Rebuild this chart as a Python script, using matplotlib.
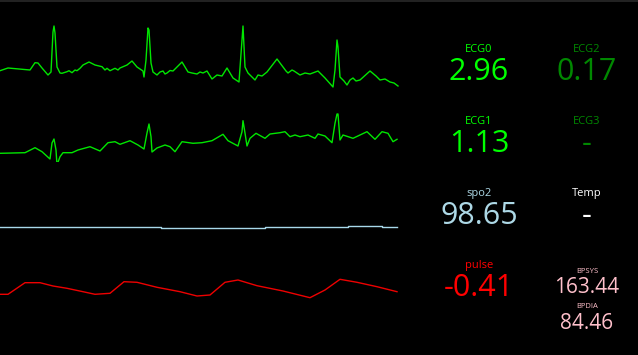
import matplotlib
matplotlib.use("Agg")
import matplotlib.pyplot as plt
from matplotlib.lines import Line2D

plt.rcParams['font.family'] = ['Open Sans', 'DejaVu Sans']

# ---- waveform data (time in samples, amplitude in arbitrary units) ----
ecg0_t = [0, 8, 30, 35, 38, 42, 48, 51, 53, 54, 55, 57, 60, 62, 67, 69, 72, 75, 77, 80, 83,
          89, 95, 102, 105, 107, 110, 115, 118, 120, 127, 132, 137, 143, 144, 146, 148, 149,
          151, 153, 157, 160, 163, 165, 167, 170, 173, 182, 188, 192, 197, 200, 203, 207,
          212, 217, 222, 227, 230, 233, 239, 242, 243, 245, 248, 252, 255, 258, 262, 267,
          277, 283, 286, 288, 292, 294, 300, 305, 310, 318, 325, 333, 335, 337, 338, 340,
          344, 347, 350, 353, 356, 360, 370, 376, 380, 385, 390, 394, 398]
ecg0_v = [19.3, 22, 20, 27.3, 27, 22, 15, 18, 58, 64, 57, 23, 17, 16.7, 18.3, 19.3, 17.3, 20,
          19.3, 21.7, 25, 28, 25, 23.3, 20, 21.7, 19.3, 21.7, 20, 22, 25, 29, 23, 19, 13, 30,
          62, 60, 27, 18, 15, 18, 19, 16, 17, 19.5, 19, 28, 18, 17, 16, 18, 17, 19, 11, 15,
          14, 22, 17, 12, 8, 50, 64, 23, 17, 13, 10, 15, 14, 18, 31, 23, 19, 17, 20, 19, 15,
          17, 16, 19, 12, 3, 20, 50, 43, 13, 9, 5, 10, 12, 9, 10, 19, 14, 10, 11, 8, 7, 4]

ecg1_t = [0, 25, 35, 42, 50, 52, 54, 56, 57, 60, 63, 72, 78, 90, 100, 108, 115, 120, 130,
          138, 144, 147, 149, 151, 152, 157, 165, 170, 175, 182, 193, 202, 212, 223, 228,
          238, 242, 243, 245, 247, 250, 256, 265, 270, 280, 285, 290, 295, 300, 308, 315,
          318, 325, 332, 335, 337, 338, 340, 343, 353, 367, 375, 382, 388, 393, 397]
ecg1_v = [8.7, 9.3, 14.3, 10.3, 3, 19, 23, 12, -3, 5.3, 9.3, 9.3, 12, 15.3, 11, 19.3, 20.3,
          17.7, 21.3, 17, 13, 29, 38, 25.3, 10, 14, 17, 15.3, 10.3, 20.3, 18.7, 19.3, 21.3,
          27.7, 21.3, 16, 30.3, 41.3, 29, 16, 23.7, 28.7, 23.7, 28, 29.3, 30.3, 25.3, 27,
          25.3, 27, 23.7, 28, 26, 19.3, 38.7, 48, 48, 22, 27, 23.7, 30.3, 22.7, 30.3, 28.7,
          20.3, 22.7]

spo2_t = [0, 161, 265, 348, 382, 397]
spo2_v = [7, 5.7, 7, 8, 7, 7]

pulse_t = [0, 8, 25, 40, 53, 67, 83, 95, 110, 124, 137, 157, 180, 197, 210, 225, 238, 257,
           283, 310, 325, 340, 357, 377, 397]
pulse_v = [11.7, 11.7, 23.3, 23.3, 20, 17.7, 14.3, 11.7, 12.7, 24.3, 23.7, 18.7, 14.3, 10,
           11, 23.7, 26, 20.3, 15, 8.3, 16, 26.7, 23.7, 19.3, 14.3]

# ---- numeric readouts ----
left_labels = ["ECG0", "ECG1", "spo2", "pulse"]
left_values = ["2.96", "1.13", "98.65", "-0.41"]
right_labels = ["ECG2", "ECG3", "Temp"]
right_values = ["0.17", "-", "-"]
bp_labels = ["BPSYS", "BPDIA"]
bp_values = ["163.44", "84.46"]

W, H = 638, 355
fig = plt.figure(figsize=(W / 100, H / 100), dpi=100, facecolor="black")

def fx(px):
    return px / W

def fy(py):
    return 1 - py / H

# top thin border line
fig.add_artist(Line2D([0, 1], [fy(0.5), fy(0.5)], color="#2a2a2a", lw=1.2,
                      transform=fig.transFigure))

traces = [(ecg0_t, ecg0_v, "#00e600", None),
          (ecg1_t, ecg1_v, "#00e600", None),
          (spo2_t, spo2_v, "#a8d8ea", "steps-post"),
          (pulse_t, pulse_v, "#ee0000", None)]

for i, (t, v, c, ds) in enumerate(traces):
    top = 18 + 72 * i
    ax = fig.add_axes([0, fy(top + 72), fx(400), 72 / H])
    ax.set_facecolor("none")
    kw = {"drawstyle": ds} if ds else {}
    ax.plot(t, v, color=c, lw=1.0, **kw)
    ax.set_xlim(0, 400)
    ax.set_ylim(0, 72)
    ax.axis("off")

left_colors = ["#00ff00", "#00ff00", "#add8e6", "#ff0000"]
right_colors = ["#008800", "#008800", "#ffffff"]

for i in range(4):
    lab_base = 51.7 + 72 * i
    val_base = 80 + 72 * i
    fig.text(fx(479), fy(lab_base), left_labels[i], color=left_colors[i], fontsize=8,
             ha="center", va="baseline")
    fig.text(fx(479), fy(val_base), left_values[i], color=left_colors[i], fontsize=22,
             ha="center", va="baseline")

for i in range(3):
    lab_base = 51.7 + 72 * i
    val_base = 80 + 72 * i
    fig.text(fx(587), fy(lab_base), right_labels[i], color=right_colors[i], fontsize=8,
             ha="center", va="baseline")
    fig.text(fx(587), fy(val_base), right_values[i], color=right_colors[i], fontsize=22,
             ha="center", va="baseline")

bp_lab_base = [273, 308]
bp_val_base = [293, 329]
for i in range(2):
    fig.text(fx(587), fy(bp_lab_base[i]), bp_labels[i], color="#ffc0cb", fontsize=5.5,
             ha="center", va="baseline")
    fig.text(fx(587), fy(bp_val_base[i]), bp_values[i], color="#ffc0cb", fontsize=15,
             ha="center", va="baseline")

fig.savefig("out.png", dpi=100, facecolor="black")
